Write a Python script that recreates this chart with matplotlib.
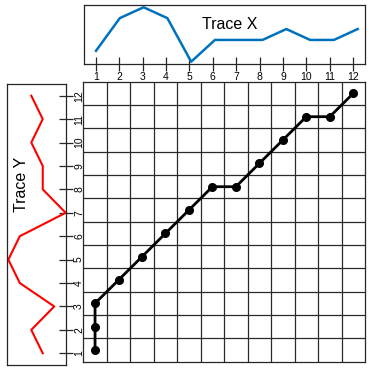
import matplotlib
matplotlib.use("Agg")
import matplotlib.pyplot as plt
import numpy as np

plt.rcParams['font.family'] = ['Liberation Sans', 'DejaVu Sans']

# Data
idx = list(range(1, 13))
trace_x = [1, 4, 5, 4, 0, 2, 2, 2, 3, 2, 2, 3]
trace_y = [3, 2, 4, 1, 0, 1, 5, 3, 3, 2, 3, 2]
path_i = [1, 1, 1, 2, 3, 4, 5, 6, 7, 8, 9, 10, 11, 12]
path_j = [1, 2, 3, 4, 5, 6, 7, 8, 8, 9, 10, 11, 11, 12]
tick_labels = [str(i) for i in idx]

W = H = 372
fig = plt.figure(figsize=(3.72, 3.72), dpi=100)

def rect(x0, y0, x1, y1):
    return [x0 / W, (H - y1) / H, (x1 - x0) / W, (y1 - y0) / H]

edge = '#262626'

# Main grid
ax = fig.add_axes(rect(83.3, 81.7, 365, 361.7))
ax.set_xlim(0.5, 12.5)
ax.set_ylim(0.5, 12.5)
for v in np.arange(1.5, 12.5, 1.0):
    ax.axvline(v, color='#2a2a2a', lw=0.9, zorder=1)
    ax.axhline(v, color='#2a2a2a', lw=0.9, zorder=1)
ax.plot(path_i, path_j, color='black', lw=2.0, marker='o', markersize=5.5, zorder=3)
ax.set_xticks([])
ax.set_yticks([])
for s in ax.spines.values():
    s.set_color(edge)
    s.set_linewidth(0.9)

# Top panel (Trace X)
axt = fig.add_axes(rect(84, 5.3, 365, 64))
axt.set_xlim(0.5, 12.5)
axt.set_ylim(-0.21, 5.18)
axt.set_xticks(idx)
axt.set_xticklabels(tick_labels, fontsize=7.5)
axt.tick_params(axis='x', direction='inout', length=10, width=0.9, color=edge, pad=1)
axt.set_yticks([])
for s in axt.spines.values():
    s.set_color(edge)
    s.set_linewidth(0.9)
axt2 = axt.twiny()
axt2.set_xlim(0.4956, 12.307)
axt2.set_ylim(-0.21, 5.18)
axt2.plot(idx, trace_x, color='#0072BD', lw=1.8)
axt2.set_xticks([])
axt2.axis('off')
axt.text(0.52, 0.68, 'Trace X', transform=axt.transAxes, ha='center', va='center', fontsize=11.5)

# Left panel (Trace Y)
axl = fig.add_axes(rect(7.3, 84, 65.7, 365))
axl.set_ylim(0.5, 12.5)
axl.set_xlim(-0.09, 5.0)
axl.plot(trace_y, idx, color='#FF0000', lw=1.5, clip_on=False)
axl.yaxis.tick_right()
axl.set_yticks(idx)
axl.set_yticklabels(tick_labels, fontsize=7.5, rotation=90, va='center')
axl.tick_params(axis='y', direction='inout', length=10, width=0.9, color=edge, pad=1)
axl.set_xticks([])
for s in axl.spines.values():
    s.set_color(edge)
    s.set_linewidth(0.9)
axl.text(0.235, 0.644, 'Trace Y', transform=axl.transAxes, ha='center', va='center',
         fontsize=11.5, rotation=90)

fig.savefig('out.png', dpi=100)
